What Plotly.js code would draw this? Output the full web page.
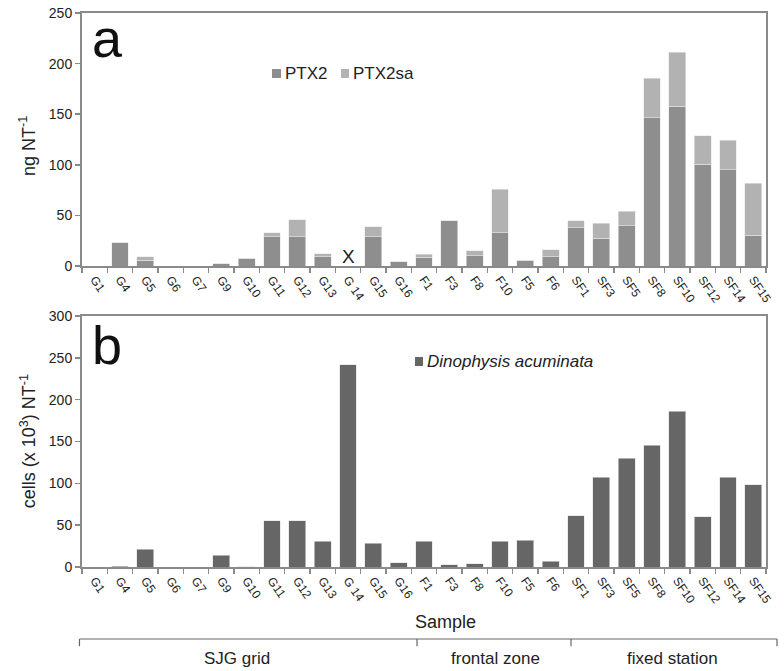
<!DOCTYPE html>
<html>
<head>
<meta charset="utf-8">
<script src="https://cdn.plot.ly/plotly-3.0.1.min.js"></script>
<style>html,body{margin:0;padding:0;background:#fff;}#chart{width:784px;height:671px;}</style>
</head>
<body>
<div id="chart"></div>
<script>
var samples = ["G1","G4","G5","G6","G7","G9","G10","G11","G12","G13","G 14","G15","G16",
  "F1","F3","F8","F10","F5","F6",
  "SF1","SF3","SF5","SF8","SF10","SF12","SF14","SF15"];
var ptx2   = [0,23,5.5,0,0,2,7.5,29,29,9,null,29,4.3, 8.6,44.7,10,33,5.6,9, 38,27.5,40,146.5,158,100.5,95,30.5];
var ptx2sa = [0,0,3.5,0,0,0.3,0,4,16.5,3,null,10,0, 3.2,0,5,43,0,7, 6.5,15,14,39,53,28,29.5,51.5];
var dino   = [0,1,21,0,0,14.3,0.5,55,55,31,242,28.6,5.2, 30.6,2.8,4,30.6,32,6.8, 61.3,107.4,130,145.6,186,60,107.4,98.3];
var seriesNames = ["PTX2","PTX2sa","Dinophysis acuminata"];
var groupLabels = ["SJG grid","frontal zone","fixed station"];

var font = "Liberation Sans, Arial, sans-serif";
var axisCol = "#8a8a8a";
var colors = ["#8e8e8e","#b2b2b2","#666666"];

var traces = [
  {type:"bar", x:samples, y:ptx2, name:seriesNames[0], marker:{color:colors[0], line:{color:"#e8e8e8", width:0.6}}, xaxis:"x", yaxis:"y"},
  {type:"bar", x:samples, y:ptx2sa, name:seriesNames[1], marker:{color:colors[1], line:{color:"#e8e8e8", width:0.6}}, xaxis:"x", yaxis:"y"},
  {type:"bar", x:samples, y:dino, name:seriesNames[2], marker:{color:colors[2], line:{color:"#e0e0e0", width:0.6}}, xaxis:"x2", yaxis:"y2"}
];

function xax(anchor){
  return {anchor:anchor, domain:[0,1], type:"category", showline:true, linecolor:axisCol, linewidth:2, mirror:true,
    ticks:"outside", tickson:"boundaries", ticklen:5, tickcolor:axisCol, tickwidth:1.5, tickangle:55,
    tickfont:{family:font, size:12, color:"#222"}, showgrid:false, zeroline:false, automargin:false};
}
function yax(anchor, dom, rng){
  return {anchor:anchor, domain:dom, range:rng, dtick:50, showline:true, linecolor:axisCol, linewidth:2, mirror:true,
    ticks:"outside", ticklen:5, tickcolor:axisCol, tickwidth:1.5, tickfont:{family:font, size:14, color:"#222"},
    showgrid:false, zeroline:false, automargin:false};
}

function ann(x, y, text, size, extra){
  var a = {xref:"paper", yref:"paper", x:x, y:y, text:text, showarrow:false, xanchor:"center", yanchor:"middle",
    font:{family:font, size:size, color:"#222"}};
  for (var k in extra) a[k] = extra[k];
  return a;
}

var annotations = [
  ann(0.012, 1.012, "a", 54, {xanchor:"left", yanchor:"top", font:{family:font, size:54, color:"#111"}}),
  ann(0.012, 0.458, "b", 54, {xanchor:"left", yanchor:"top", font:{family:font, size:54, color:"#111"}}),
  {xref:"x", yref:"y", x:"G 14", y:9, text:"X", showarrow:false, xanchor:"center", yanchor:"middle", font:{family:font, size:19, color:"#222"}},
  ann(-0.079, 0.76, "ng NT<sup>-1</sup>", 18, {textangle:-90}),
  ann(-0.079, 0.227, "cells (x 10<sup>3</sup>) NT<sup>-1</sup>", 18, {textangle:-90}),
  ann(0.531, -0.099, "Sample", 18, {}),
  ann(0.2265, -0.166, groupLabels[0], 17, {}),
  ann(0.605, -0.166, groupLabels[1], 17, {}),
  ann(0.864, -0.166, groupLabels[2], 17, {}),
  // legend texts
  ann(0.2939, 0.8908, seriesNames[0], 17, {xanchor:"left"}),
  ann(0.3933, 0.8908, seriesNames[1], 17, {xanchor:"left"}),
  ann(0.5015, 0.3709, "<i>" + seriesNames[2] + "</i>", 17, {xanchor:"left"})
];

var ly = -0.13, lt = -0.143;
var bx = [-0.0037, 0.4898, 0.7149, 1.0161];
var shapes = [{type:"line", xref:"paper", yref:"paper", x0:bx[0], x1:bx[3], y0:ly, y1:ly, line:{color:"#666", width:1.2}}];
bx.forEach(function(v){ shapes.push({type:"line", xref:"paper", yref:"paper", x0:v, x1:v, y0:ly, y1:lt, line:{color:"#666", width:1.2}}); });
// legend swatches
function swatch(x0, x1, y0, y1, c){
  return {type:"rect", xref:"paper", yref:"paper", x0:x0, x1:x1, y0:y0, y1:y1, fillcolor:c, line:{width:0}};
}
shapes.push(swatch(0.2778, 0.2909, 0.8827, 0.8989, colors[0]));
shapes.push(swatch(0.3787, 0.3904, 0.8827, 0.8989, colors[1]));
shapes.push(swatch(0.4868, 0.4985, 0.3628, 0.3791, colors[2]));

var layout = {
  width:784, height:671,
  margin:{l:82, r:18, t:13, b:104},
  paper_bgcolor:"#fff", plot_bgcolor:"#fff",
  barmode:"stack", bargap:0.33,
  font:{family:font, color:"#222"},
  xaxis: xax("y"),
  xaxis2: xax("y2"),
  yaxis: yax("x", [0.5433,1], [0,250]),
  yaxis2: yax("x2", [0,0.4531], [0,300]),
  annotations:annotations,
  shapes:shapes,
  showlegend:false
};

Plotly.newPlot("chart", traces, layout, {staticPlot:true, displayModeBar:false});
</script>
</body>
</html>
